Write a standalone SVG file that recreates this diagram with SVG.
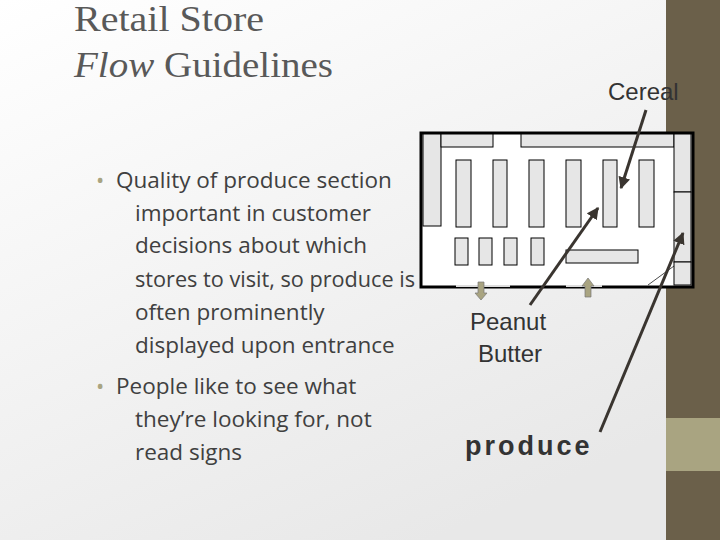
<svg xmlns="http://www.w3.org/2000/svg" width="720" height="540" viewBox="0 0 720 540">
<defs>
<linearGradient id="bg" x1="0" y1="0" x2="0.6" y2="1"><stop offset="0" stop-color="#ffffff"/><stop offset="1" stop-color="#e8e8e8"/></linearGradient>
<marker id="ah" viewBox="0 0 10 10" refX="9" refY="5" markerWidth="4" markerHeight="4" orient="auto"><path d="M0,0 L10,5 L0,10 z" fill="#3a3530"/></marker>
<style>
.f{fill:#e6e6e6;stroke:#000;stroke-width:1}
.b{font-family:"Open Sans","Liberation Sans",sans-serif;font-size:22.5px;fill:#404040}
.d{fill:#a9a481;font-size:22px}
.l{font-family:"Liberation Sans",sans-serif;fill:#333}
.c{stroke:#3a3530;stroke-width:3;fill:none;marker-end:url(#ah)}
</style>
</defs>
<rect width="720" height="540" fill="url(#bg)"/>
<rect x="666" y="0" width="54" height="540" fill="#6b604a"/>
<rect x="666" y="418" width="54" height="53" fill="#a9a481"/>
<g id="title" font-family="Liberation Serif,serif" font-size="36" fill="#595959">
<text x="74" y="31" textLength="190" lengthAdjust="spacingAndGlyphs">Retail Store</text>
<text x="74" y="77" textLength="259" lengthAdjust="spacingAndGlyphs"><tspan font-style="italic">Flow</tspan> Guidelines</text>
</g>
<g id="bullets" class="b">
<text x="96" y="188" class="d">•</text>
<text x="116" y="188">Quality of produce section</text>
<text x="135" y="221">important in customer</text>
<text x="135" y="253">decisions about which</text>
<text x="135" y="287" textLength="280" lengthAdjust="spacingAndGlyphs">stores to visit, so produce is</text>
<text x="135" y="320">often prominently</text>
<text x="135" y="353">displayed upon entrance</text>
<text x="96" y="394" class="d">•</text>
<text x="116" y="394">People like to see what</text>
<text x="135" y="427">they’re looking for, not</text>
<text x="135" y="460">read signs</text>
</g>
<g id="plan">
<rect x="421" y="133" width="272" height="154" fill="#fff" stroke="#000" stroke-width="3"/>
<line x1="456" y1="286" x2="510" y2="286" stroke="#ddd" stroke-width="2"/>
<line x1="566" y1="286" x2="602" y2="286" stroke="#ddd" stroke-width="2"/>
<rect class="f" x="423" y="134" width="18" height="92"/>
<rect class="f" x="441" y="134" width="52" height="13"/>
<rect class="f" x="521" y="134" width="153" height="13"/>
<rect class="f" x="674" y="134" width="17" height="58"/>
<rect class="f" x="674" y="192" width="17" height="70"/>
<rect class="f" x="674" y="262" width="17" height="23"/>
<line x1="648" y1="285" x2="674" y2="266" stroke="#000" stroke-width="0.7"/>
<rect class="f" x="456" y="160" width="15" height="67"/>
<rect class="f" x="493" y="160" width="14" height="67"/>
<rect class="f" x="529" y="160" width="15" height="67"/>
<rect class="f" x="566" y="160" width="15" height="67"/>
<rect class="f" x="603" y="160" width="14" height="67"/>
<rect class="f" x="639" y="160" width="15" height="67"/>
<rect class="f" x="455" y="238" width="13" height="27"/>
<rect class="f" x="479" y="238" width="13" height="27"/>
<rect class="f" x="504" y="238" width="13" height="27"/>
<rect class="f" x="531" y="238" width="13" height="27"/>
<rect class="f" x="566" y="250" width="72" height="13"/>
<path d="M478,282 h6 v11 h3 l-6,7 l-6,-7 h3 z" fill="#a9a481" stroke="#777" stroke-width="0.7"/>
<path d="M585,297 v-11 h-3 l6,-8 l6,8 h-3 v11 z" fill="#a9a481" stroke="#777" stroke-width="0.7"/>
</g>
<g id="labels" class="l">
<text x="608" y="100" font-size="24">Cereal</text>
<text x="470" y="330" font-size="24">Peanut</text>
<text x="478" y="362" font-size="24">Butter</text>
<text x="465" y="455" font-size="27" font-weight="bold" letter-spacing="3">produce</text>
</g>
<g id="connectors">
<line class="c" x1="646" y1="110" x2="621" y2="188"/>
<line class="c" x1="530" y1="305" x2="598" y2="208"/>
<line class="c" x1="600" y1="432" x2="683" y2="233"/>
</g>
</svg>
